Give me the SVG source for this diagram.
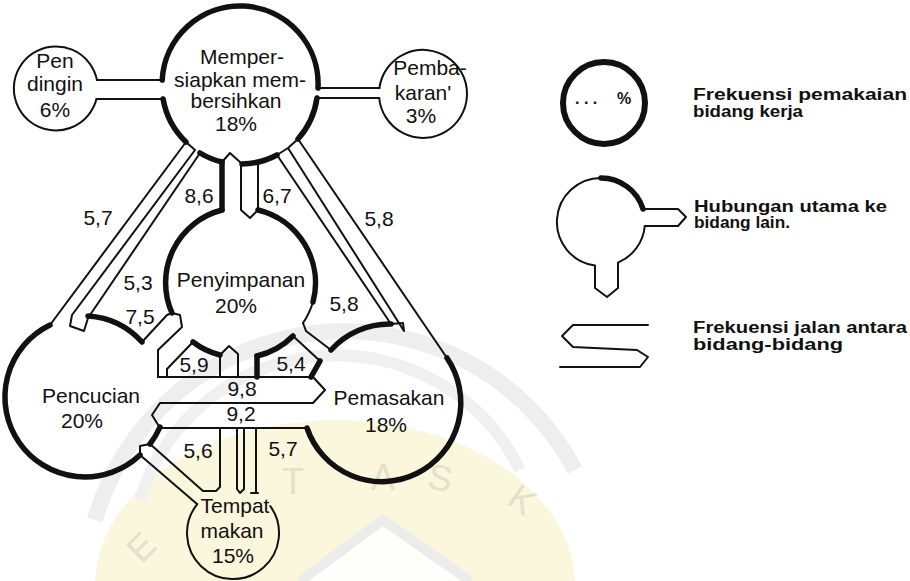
<svg xmlns="http://www.w3.org/2000/svg" width="910" height="581" viewBox="0 0 910 581">
<style>
.thick{fill:none;stroke:#111;stroke-width:5.5;stroke-linecap:round;stroke-linejoin:round}
.thin{fill:none;stroke:#111;stroke-width:2;stroke-linecap:round;stroke-linejoin:round}
.lbl{font-family:"Liberation Sans",Arial,sans-serif;font-size:21px;fill:#111;text-anchor:middle}
.leg{font-family:"Liberation Sans",Arial,sans-serif;font-size:16px;font-weight:bold;fill:#111}
.wm{font-family:"Liberation Sans",Arial,sans-serif;font-size:36px;fill:#e4e0cc;text-anchor:middle}
</style>
<rect width="910" height="581" fill="#fff"/>
<g id="watermark">
<ellipse cx="335" cy="585" rx="240" ry="165" fill="#fbf7dc"/>
<path d="M95,520 A260,260 0 0 1 575,470" fill="none" stroke="#eeeeee" stroke-width="16"/>
<path d="M140,500 A205,205 0 0 1 520,470" fill="none" stroke="#f0f0f0" stroke-width="12"/>
<path d="M300,581 L383,520 L470,581" fill="#fefefa" stroke="#ececec" stroke-width="10"/>
<text class="wm" x="293" y="494">T</text>
<text class="wm" x="383" y="490">A</text>
<text class="wm" x="438" y="490" transform="rotate(10 438 490)">S</text>
<text class="wm" x="515" y="510" transform="rotate(35 515 510)">K</text>
<text class="wm" x="150" y="556" transform="rotate(-45 150 556)">E</text>
</g>
<g id="connectors">
<path class="thin" d="M97,80 H163 M96.5,99 H163"/>
<path class="thin" d="M318,88 H379.4 M317,98 H379.2"/>
<path class="thin" d="M186,142 L50,325 M195,150 L72,315 L70,326 L84,331 L88,318 L200,153 M186,142 L195,150"/>
<path class="thin" d="M298,139 L447,358 M288,148 L404,331 L403,323 L391,324 L277,155 M298,139 L288,148 L277,155"/>
<path class="thick" d="M222,162 V210"/>
<path class="thin" d="M222,162 L230,153 L241,163 V210 L250,218 L258,210 V164"/>
<path class="thin" d="M142,342 L167,315 L172,313 L180,315 L182,327 L158,350 V377"/>
<path class="thin" d="M193,342 L167,369 V377"/>
<path class="thin" d="M158,377 H313 L325,390 L313,403 H160 L152,415 L160,428 H307"/>
<path class="thin" d="M220,355 V377 M220,355 L229,346 L238,354 V377"/>
<path class="thick" d="M257,377 V356"/>
<path class="thin" d="M293,336 L320,361 M303,323 L306,331 L331,350"/>
<path class="thick" d="M320,361 L311,377"/>
<path class="thin" d="M140,455 L140,446 L150,444 M140,455 L197,504 M150,444 L203,491 H216 L220,487 V428"/>
<path class="thin" d="M237,428 V489 L240,493 L244,489 V428 M256,428 V493 M251,493 H258"/>
</g>
<g id="node-pendingin">
<path class="thin" d="M97,80 A42,42 0 1 0 96.5,99"/>
<text class="lbl" x="55" y="68">Pen</text>
<text class="lbl" x="55" y="91">dingin</text>
<text class="lbl" x="55" y="117">6%</text>
</g>
<g id="node-mempersiapkan">
<path class="thick" d="M162.2,80 A78,78 0 0 1 318,88"/>
<path class="thick" d="M163.1,99 A78,78 0 0 0 186,142"/>
<path class="thick" d="M317,98 A78,78 0 0 1 298,139"/>
<path class="thick" d="M200,153 A78,78 0 0 0 222,162"/>
<path class="thick" d="M242,164 A78,78 0 0 0 277,155"/>
<text class="lbl" x="242" y="64">Memper-</text>
<text class="lbl" x="240" y="87">siapkan mem-</text>
<text class="lbl" x="236" y="108">bersihkan</text>
<text class="lbl" x="236" y="131">18%</text>
</g>
<g id="node-pembakaran">
<path class="thin" d="M379.4,88 A44,44 0 1 1 379.2,98"/>
<text class="lbl" x="430" y="75">Pemba-</text>
<text class="lbl" x="423" y="100">karan'</text>
<text class="lbl" x="421" y="123">3%</text>
</g>
<g id="node-penyimpanan">
<path class="thick" d="M222,210 A75,75 0 0 0 172,313"/>
<path class="thick" d="M258,210 A75,75 0 0 1 313,302"/>
<path class="thin" d="M313,302 A75,75 0 0 1 303,323"/>
<path class="thick" d="M193,342 A75,75 0 0 0 220,355"/>
<path class="thick" d="M257,356 A75,75 0 0 0 293,336"/>
<text class="lbl" x="241" y="287">Penyimpanan</text>
<text class="lbl" x="236" y="313">20%</text>
</g>
<g id="node-pencucian">
<path class="thick" d="M50,325 A80,80 0 1 0 140,455"/>
<path class="thick" d="M88,316 A80,80 0 0 1 142,342"/>
<path class="thick" d="M150,444 A80,80 0 0 0 160,427"/>
<text class="lbl" x="91" y="403">Pencucian</text>
<text class="lbl" x="82" y="428">20%</text>
</g>
<g id="node-pemasakan">
<path class="thick" d="M331,350 A79,79 0 0 1 391,324"/>
<path class="thick" d="M307,428 A79,79 0 1 0 447,358"/>
<text class="lbl" x="389" y="405">Pemasakan</text>
<text class="lbl" x="386" y="432">18%</text>
</g>
<g id="node-tempatmakan">
<path class="thin" d="M197.3,504.1 A46,46 0 1 0 270.2,506"/>
<text class="lbl" x="235" y="513">Tempat</text>
<text class="lbl" x="232" y="538">makan</text>
<text class="lbl" x="233" y="563">15%</text>
</g>
<g id="flow-labels">
<text class="lbl" x="98" y="225">5,7</text>
<text class="lbl" x="199" y="203">8,6</text>
<text class="lbl" x="277" y="203">6,7</text>
<text class="lbl" x="379" y="226">5,8</text>
<text class="lbl" x="138" y="290">5,3</text>
<text class="lbl" x="140" y="324">7,5</text>
<text class="lbl" x="344" y="311">5,8</text>
<text class="lbl" x="194" y="372">5,9</text>
<text class="lbl" x="291" y="371">5,4</text>
<text class="lbl" x="242" y="396">9,8</text>
<text class="lbl" x="241" y="421">9,2</text>
<text class="lbl" x="198" y="458">5,6</text>
<text class="lbl" x="283" y="456">5,7</text>
</g>
<g id="legend">
<circle cx="604" cy="103" r="41" fill="none" stroke="#111" stroke-width="6"/>
<text class="leg" x="575" y="104" font-size="18">. . .</text>
<text class="leg" x="617" y="104" font-size="18">%</text>
<text class="leg" x="693" y="100" textLength="214" lengthAdjust="spacingAndGlyphs">Frekuensi pemakaian</text>
<text class="leg" x="693" y="117" textLength="110" lengthAdjust="spacingAndGlyphs">bidang kerja</text>
<path class="thin" d="M644.8,226 A44,44 0 0 1 618,262.6 V288 L607,297 L595,288 V265.6 A44,44 0 0 1 601,178"/>
<path class="thick" d="M601,178 A44,44 0 0 1 643,209"/>
<path class="thin" d="M643,209 H678 L686,217 L678,226 H644.8"/>
<text class="leg" x="694" y="212" textLength="193" lengthAdjust="spacingAndGlyphs">Hubungan utama ke</text>
<text class="leg" x="694" y="228" textLength="96" lengthAdjust="spacingAndGlyphs">bidang lain.</text>
<path class="thin" d="M648,325 H573 L562,336 L573,347 L637,350 L648,357 L640,367 H560"/>
<text class="leg" x="693" y="333" textLength="214" lengthAdjust="spacingAndGlyphs">Frekuensi jalan antara</text>
<text class="leg" x="693" y="350" textLength="150" lengthAdjust="spacingAndGlyphs">bidang-bidang</text>
</g>
</svg>
